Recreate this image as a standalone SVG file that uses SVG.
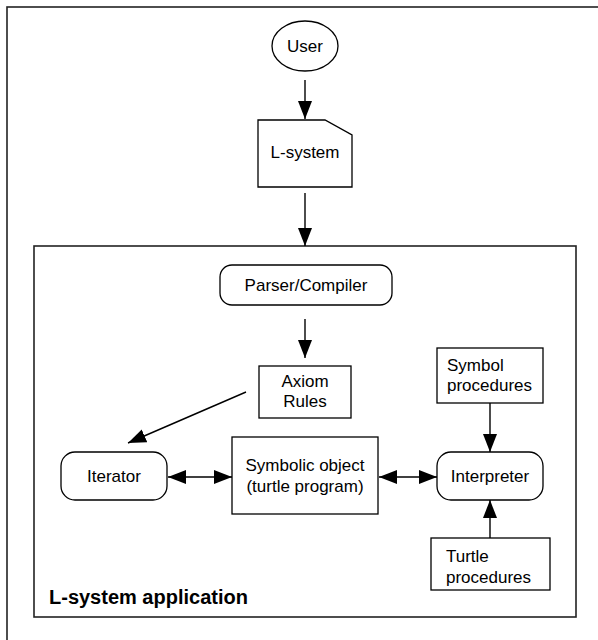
<svg xmlns="http://www.w3.org/2000/svg" width="598" height="640" viewBox="0 0 598 640">
<style>
.box{fill:#fff;stroke:#000;stroke-width:1.3}
.frame{fill:none;stroke:#222;stroke-width:1.6}
.t{font-family:"Liberation Sans",Arial,sans-serif;font-size:17px;fill:#000}
.c{text-anchor:middle}
.b{font-weight:bold;font-size:20px}
.e{fill:none;stroke:#000;stroke-width:1.4}
</style>
<defs>
<marker id="ah" markerUnits="userSpaceOnUse" markerWidth="19" markerHeight="15" refX="18" refY="7" orient="auto-start-reverse">
<path d="M0,0 L18,7 L0,14 Z" fill="#000"/>
</marker>
</defs>
<rect class="frame" x="7" y="7" width="600" height="650"/>
<g id="app">
<rect class="frame" x="34" y="246" width="542" height="371"/>
<text class="t b" x="49" y="604">L-system application</text>
</g>
<g id="user">
<ellipse class="box" cx="305" cy="46" rx="33" ry="25"/>
<text class="t c" x="305" y="52">User</text>
</g>
<g id="lsystem">
<path class="box" d="M258,120 H325 L352,135 V187 H258 Z"/>
<text class="t c" x="305" y="158">L-system</text>
</g>
<g id="parser">
<rect class="box" x="220" y="265" width="172" height="40" rx="12"/>
<text class="t c" x="306" y="291">Parser/Compiler</text>
</g>
<g id="axiom">
<rect class="box" x="259" y="366" width="92" height="52"/>
<text class="t c" x="305" y="387">Axiom</text>
<text class="t c" x="305" y="407">Rules</text>
</g>
<g id="iterator">
<rect class="box" x="61" y="452" width="106" height="48" rx="14"/>
<text class="t c" x="114" y="482">Iterator</text>
</g>
<g id="symbolic">
<rect class="box" x="232" y="437" width="146" height="77"/>
<text class="t c" x="305" y="471">Symbolic object</text>
<text class="t c" x="305" y="492">(turtle program)</text>
</g>
<g id="interpreter">
<rect class="box" x="437" y="452" width="106" height="48" rx="14"/>
<text class="t c" x="490" y="482">Interpreter</text>
</g>
<g id="symbolproc">
<rect class="box" x="437" y="348" width="106" height="55"/>
<text class="t" x="447" y="371">Symbol</text>
<text class="t" x="447" y="391">procedures</text>
</g>
<g id="turtleproc">
<rect class="box" x="431" y="538" width="119" height="52"/>
<text class="t" x="446" y="562">Turtle</text>
<text class="t" x="446" y="583">procedures</text>
</g>
<g id="connectors">
<line class="e" x1="305" y1="80" x2="305" y2="119" marker-end="url(#ah)"/>
<line class="e" x1="305" y1="193" x2="305" y2="246" marker-end="url(#ah)"/>
<line class="e" x1="305" y1="319" x2="305" y2="358" marker-end="url(#ah)"/>
<line class="e" x1="246" y1="392" x2="128" y2="443" marker-end="url(#ah)"/>
<line class="e" x1="168" y1="477" x2="232" y2="477" marker-start="url(#ah)" marker-end="url(#ah)"/>
<line class="e" x1="379" y1="477" x2="437" y2="477" marker-start="url(#ah)" marker-end="url(#ah)"/>
<line class="e" x1="490" y1="403" x2="490" y2="452" marker-end="url(#ah)"/>
<line class="e" x1="490" y1="538" x2="490" y2="500" marker-end="url(#ah)"/>
</g>
</svg>
